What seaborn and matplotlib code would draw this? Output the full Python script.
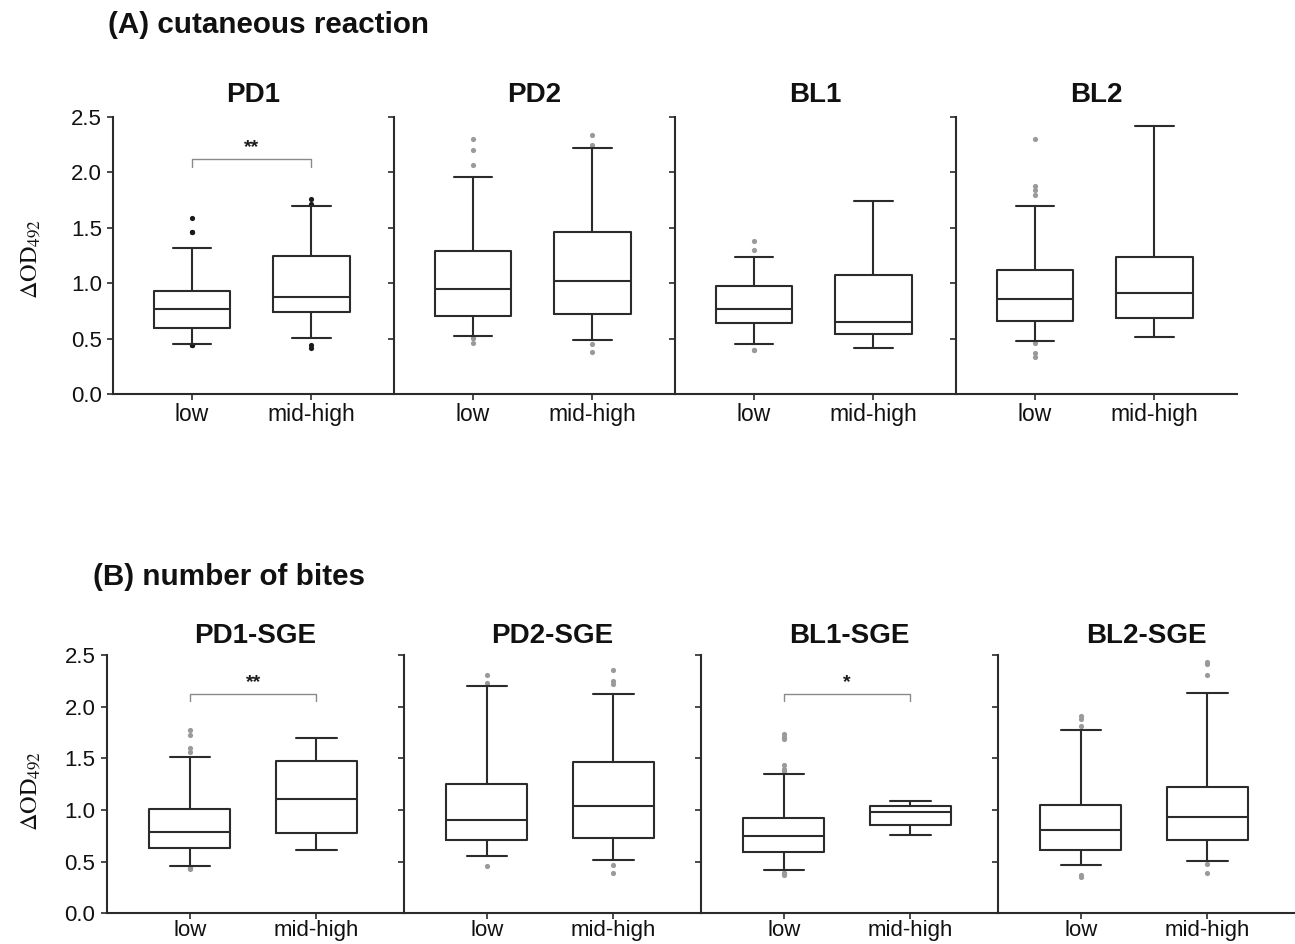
import matplotlib
matplotlib.use("Agg")
import matplotlib.pyplot as plt
import seaborn as sns
import pandas as pd

# ---------------- data ----------------
groups = ["low", "mid-high"]
yticks = [0.0, 0.5, 1.0, 1.5, 2.0, 2.5]

A_panels = ["PD1", "PD2", "BL1", "BL2"]
A_whislo = [[0.45, 0.51], [0.53, 0.49], [0.45, 0.415], [0.48, 0.515]]
A_q1 = [[0.60, 0.74], [0.71, 0.72], [0.64, 0.54], [0.66, 0.69]]
A_med = [[0.77, 0.88], [0.95, 1.02], [0.77, 0.65], [0.86, 0.91]]
A_q3 = [[0.93, 1.25], [1.29, 1.46], [0.98, 1.08], [1.12, 1.24]]
A_whishi = [[1.32, 1.70], [1.96, 2.22], [1.235, 1.74], [1.70, 2.42]]
A_outliers = [
    [[1.59, 1.46, 1.46, 0.44, 0.44, 0.44], [1.76, 1.72, 0.44, 0.42]],
    [[2.30, 2.20, 2.07, 0.51, 0.51, 0.46], [2.34, 2.245, 0.455, 0.38]],
    [[1.385, 1.30, 0.40, 0.40], []],
    [[2.30, 1.88, 1.84, 1.80, 0.46, 0.37, 0.34], []],
]
A_sig = ["**", "", "", ""]

B_panels = ["PD1-SGE", "PD2-SGE", "BL1-SGE", "BL2-SGE"]
B_whislo = [[0.46, 0.61], [0.55, 0.52], [0.42, 0.76], [0.465, 0.51]]
B_q1 = [[0.63, 0.78], [0.71, 0.73], [0.59, 0.85], [0.61, 0.71]]
B_med = [[0.79, 1.11], [0.90, 1.04], [0.75, 0.98], [0.81, 0.935]]
B_q3 = [[1.01, 1.47], [1.255, 1.46], [0.92, 1.04], [1.05, 1.22]]
B_whishi = [[1.51, 1.70], [2.20, 2.12], [1.35, 1.09], [1.77, 2.13]]
B_outliers = [
    [[1.77, 1.73, 1.60, 1.56, 0.44, 0.44, 0.44, 0.43], []],
    [[2.31, 2.23, 0.46], [2.35, 2.25, 2.22, 0.47, 0.39]],
    [[1.74, 1.71, 1.69, 1.44, 1.40, 1.38, 0.39, 0.37, 0.39], []],
    [[1.91, 1.88, 1.81, 0.37, 0.35], [2.43, 2.41, 2.31, 0.48, 0.39]],
]
B_sig = ["**", "", "*", ""]

# ---------------- style ----------------
sns.set_style("ticks")
plt.rcParams["font.family"] = ["Liberation Sans", "DejaVu Sans"]
plt.rcParams["mathtext.fontset"] = "stix"
plt.rcParams["text.color"] = "#111111"

LINE = "#2b2b2b"
fig = plt.figure(figsize=(12.95, 9.44), dpi=100)
W, H = 1295.0, 944.0


def draw_row(panels, whislo, q1, med, q3, whishi, outliers, sig,
             left0, pw, ybot, ytop, title_pad, dark_first, xfs, xpad):
    axes = []
    for i, name in enumerate(panels):
        ax = fig.add_axes([(left0 + i * pw) / W, 1 - ybot / H, pw / W, (ybot - ytop) / H])
        stats = []
        for g in range(2):
            stats.append(dict(med=med[i][g], q1=q1[i][g], q3=q3[i][g],
                              whislo=whislo[i][g], whishi=whishi[i][g],
                              fliers=[], label=groups[g]))
        lp = dict(color=LINE, linewidth=1.5)
        ax.bxp(stats, positions=[0, 1], widths=0.64, capwidths=0.32,
               showfliers=False, boxprops=lp, whiskerprops=lp,
               capprops=lp, medianprops=lp)
        rows = []
        for g in range(2):
            for v in outliers[i][g]:
                rows.append({"group": g, "value": v})
        if rows:
            df = pd.DataFrame(rows)
            col = "#1a1a1a" if (dark_first and i == 0) else "#9a9a9a"
            sns.scatterplot(data=df, x="group", y="value", ax=ax, s=14,
                            color=col, linewidth=0, legend=False)
        if sig[i]:
            yb = 2.12
            ax.plot([0, 0, 1, 1], [yb - 0.07, yb, yb, yb - 0.07],
                    color="#8a8a8a", lw=1.0)
            ax.text(0.5, yb + 0.03, sig[i], ha="center", va="bottom",
                    fontsize=14, fontweight="bold", color="#1a1a1a")
        ax.set_xlim(-0.66, 1.69)
        ax.set_ylim(0, 2.5)
        ax.set_xticks([0, 1])
        ax.set_xticklabels(groups, fontsize=xfs)
        ax.set_yticks(yticks)
        if i == 0:
            ax.set_yticklabels([f"{t:.1f}" for t in yticks], fontsize=16)
        else:
            ax.set_yticklabels([])
        ax.set_xlabel("")
        ax.set_ylabel("")
        ax.tick_params(axis="both", direction="out", length=4, width=1.2,
                       color=LINE, pad=4, labelcolor="#111111")
        ax.tick_params(axis="x", pad=xpad)
        for s in ["top", "right"]:
            ax.spines[s].set_visible(False)
        for s in ["left", "bottom"]:
            ax.spines[s].set_color(LINE)
            ax.spines[s].set_linewidth(1.5)
        ax.set_facecolor("none")
        ax.set_title(name, fontsize=20, fontweight="bold", pad=title_pad)
        axes.append(ax)
    return axes


draw_row(A_panels, A_whislo, A_q1, A_med, A_q3, A_whishi, A_outliers, A_sig,
         113, 281, 394.3, 117, 11, True, 16.5, 2.5)
draw_row(B_panels, B_whislo, B_q1, B_med, B_q3, B_whishi, B_outliers, B_sig,
         106.5, 297, 913.3, 655, 8.5, False, 16, 1.0)

fig.text(108 / W, 1 - 25 / H, "(A) cutaneous reaction", fontsize=21.3,
         fontweight="bold", va="center", ha="left")
fig.text(93 / W, 1 - 577 / H, "(B) number of bites", fontsize=21.3,
         fontweight="bold", va="center", ha="left")

for yc in [259, 791]:
    fig.text(31 / W, 1 - yc / H, r"$\Delta\mathrm{OD}_{492}$", rotation=90,
             fontsize=17.5, va="center", ha="center")

fig.savefig("out.png", dpi=100, facecolor="white")
